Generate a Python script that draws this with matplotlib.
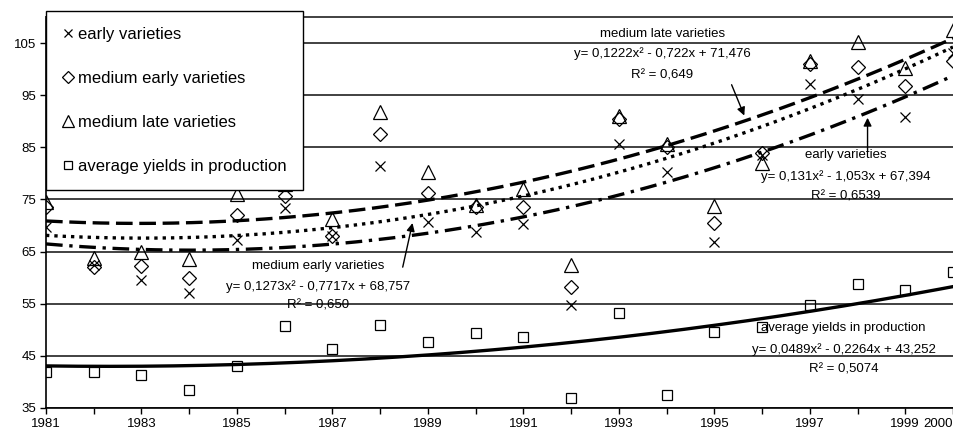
import numpy as np
import matplotlib
matplotlib.use("Agg")
import matplotlib.pyplot as plt

plt.rcParams['font.family'] = ['Liberation Sans Narrow', 'Liberation Sans', 'DejaVu Sans']

# yields per year
years = list(range(1981, 2001))
early = [69.8, 62.5, 59.6, 57.1, 67.3, 73.3, 68.0, 81.5, 70.6, 68.8,
         70.2, 54.8, 85.6, 80.2, 66.9, 83.5, 97.1, 94.2, 90.8, 103.0]
medium_early = [73.5, 62.0, 62.2, 60.0, 72.1, 75.6, 67.9, 87.5, 76.2, 73.5,
                73.5, 58.3, 90.5, 85.0, 70.4, 84.0, 101.0, 100.4, 96.8, 101.5]
medium_late = [74.6, 63.8, 65.0, 63.5, 76.0, 78.0, 71.2, 91.7, 80.2, 74.0,
               77.1, 62.5, 91.0, 85.6, 73.7, 82.0, 101.5, 105.2, 100.2, 107.5]
average = [41.9, 41.9, 41.3, 38.5, 43.1, 50.8, 46.3, 51.0, 47.7, 49.4,
           48.7, 36.9, 53.3, 37.5, 49.6, 50.6, 54.8, 58.7, 57.7, 61.0]

# polynomial trend coefficients shown on the chart (x = 1..20)
coef_early = [0.131, -1.053, 67.394]
coef_medium_early = [0.1273, -0.7717, 68.757]
coef_medium_late = [0.1222, -0.722, 71.476]
coef_average = [0.0489, -0.2264, 43.252]

x_labels = {y: str(y) for y in years if y % 2 == 1}
x_labels[2000] = "2000"

fig = plt.figure(figsize=(9.54, 4.36), dpi=100)
ax = fig.add_axes([46 / 954, 28 / 436, 907 / 954, 391 / 436])

xs = np.linspace(1, len(years), 200)
xs_year = xs + years[0] - 1

lw = 2.4
ax.plot(xs_year, np.polyval(coef_medium_late, xs), color='black', lw=lw,
        dashes=(5, 2), zorder=3)
ax.plot(xs_year, np.polyval(coef_medium_early, xs), color='black', lw=lw,
        dashes=(1, 1.5), zorder=3)
ax.plot(xs_year, np.polyval(coef_early, xs), color='black', lw=lw,
        dashes=(5, 2, 1, 2), zorder=3)
ax.plot(xs_year, np.polyval(coef_average, xs), color='black', lw=lw, zorder=3)

mk = dict(linestyle='none', color='black', markerfacecolor='none', zorder=4)
h1, = ax.plot(years, early, marker='x', markersize=7.5, markeredgewidth=0.9,
              label='early varieties', **mk)
h2, = ax.plot(years, medium_early, marker='D', markersize=7, markeredgewidth=0.9,
              label='medium early varieties', **mk)
h3, = ax.plot(years, medium_late, marker='^', markersize=10, markeredgewidth=0.9,
              label='medium late varieties', **mk)
h4, = ax.plot(years, average, marker='s', markersize=7.5, markeredgewidth=0.9,
              label='average yields in production', **mk)

ax.set_xlim(1981, 2000)
ax.set_ylim(35, 110)
ax.set_yticks([35, 45, 55, 65, 75, 85, 95, 105])
ax.set_xticks(years)
ax.set_xticklabels([x_labels.get(y, "") for y in years])
for lab in ax.get_xticklabels():
    if lab.get_text() == "2000":
        lab.set_horizontalalignment('right')
ax.tick_params(axis='both', labelsize=9.5, length=4, width=1, direction='out', pad=3)
ax.yaxis.grid(True, color='#333333', lw=1.3)
ax.set_axisbelow(True)
ax.spines['right'].set_visible(False)
ax.spines['top'].set_color('#333333')
ax.spines['top'].set_linewidth(1.3)
ax.spines['left'].set_linewidth(1.2)
ax.spines['bottom'].set_linewidth(1.2)

fs = 9.5
ax.text(1993.91, 106.7, "medium late varieties", fontsize=fs, ha='center', va='center')
ax.text(1993.91, 102.9, "y= 0,1222x² - 0,722x + 71,476", fontsize=fs, ha='center', va='center')
ax.text(1993.91, 98.7, "R² = 0,649", fontsize=fs, ha='center', va='center')
ax.annotate("", xy=(1995.65, 90.6), xytext=(1995.34, 97.5),
            arrowprops=dict(arrowstyle='-|>', color='black', lw=1, mutation_scale=12))

ax.text(1997.75, 83.5, "early varieties", fontsize=fs, ha='center', va='center')
ax.text(1997.75, 79.4, "y= 0,131x² - 1,053x + 67,394", fontsize=fs, ha='center', va='center')
ax.text(1997.75, 75.6, "R² = 0,6539", fontsize=fs, ha='center', va='center')
ax.annotate("", xy=(1998.21, 91.2), xytext=(1998.21, 83.9),
            arrowprops=dict(arrowstyle='-|>', color='black', lw=1, mutation_scale=12))

ax.text(1986.7, 62.3, "medium early varieties", fontsize=fs, ha='center', va='center')
ax.text(1986.7, 58.3, "y= 0,1273x² - 0,7717x + 68,757", fontsize=fs, ha='center', va='center')
ax.text(1986.7, 54.6, "R² = 0,650", fontsize=fs, ha='center', va='center')
ax.annotate("", xy=(1988.69, 71.0), xytext=(1988.46, 61.5),
            arrowprops=dict(arrowstyle='-|>', color='black', lw=1, mutation_scale=12))

ax.text(1997.71, 50.4, "average yields in production", fontsize=fs, ha='center', va='center')
ax.text(1997.71, 46.2, "y= 0,0489x² - 0,2264x + 43,252", fontsize=fs, ha='center', va='center')
ax.text(1997.71, 42.3, "R² = 0,5074", fontsize=fs, ha='center', va='center')

leg = fig.legend(handles=[h1, h2, h3, h4], loc='upper left',
                 bbox_to_anchor=(46 / 954, 1 - 11 / 436), borderaxespad=0,
                 prop={'family': ['Liberation Sans', 'DejaVu Sans'], 'size': 12},
                 labelspacing=1.75, handlelength=0.8,
                 handletextpad=0.2, borderpad=0.95, fancybox=False,
                 edgecolor='black', framealpha=1, markerscale=0.85)
leg.get_frame().set_linewidth(1.0)

fig.savefig("out.png", dpi=100)
